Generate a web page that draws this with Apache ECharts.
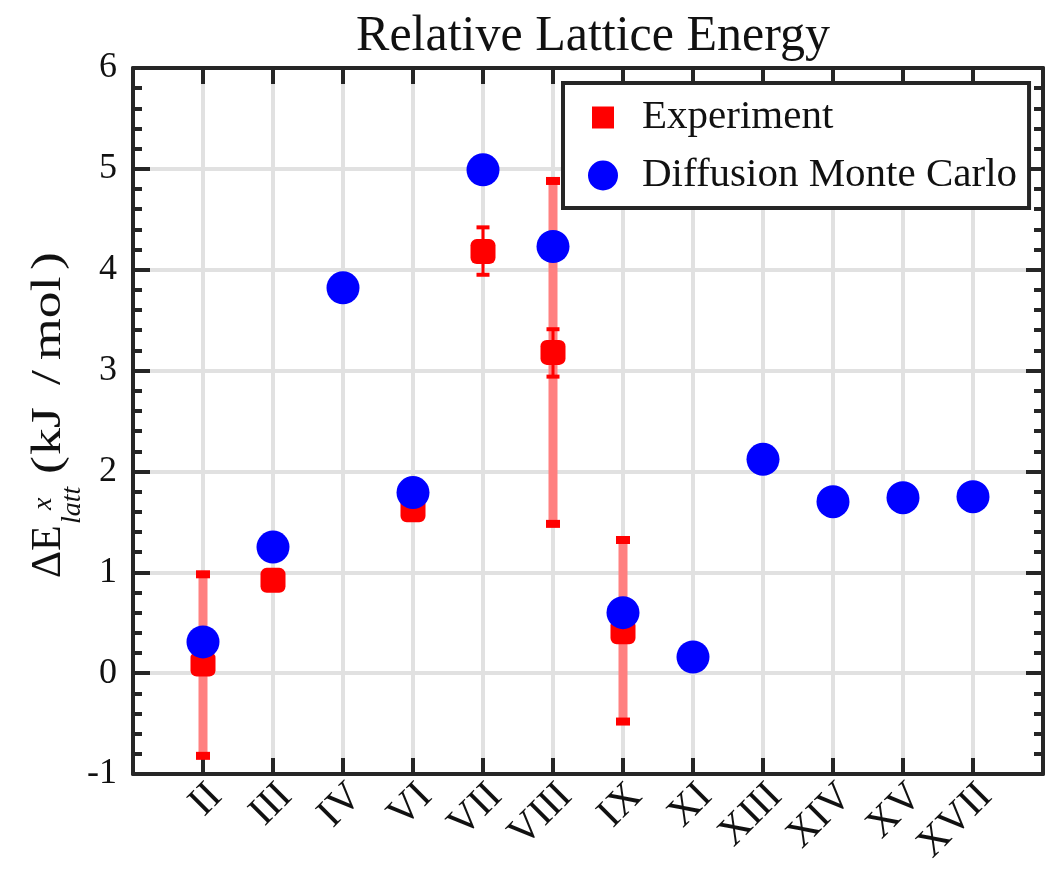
<!DOCTYPE html>
<html>
<head>
<meta charset="utf-8">
<script src="https://cdn.jsdelivr.net/npm/echarts@6/dist/echarts.min.js"></script>
<style>
  html, body { margin: 0; padding: 0; background: #ffffff; }
  #chart { width: 1048px; height: 870px; }
</style>
</head>
<body>
<div id="chart"></div>
<script>
// Polymorphs, in plot order
const categories = ['II', 'III', 'IV', 'VI', 'VII', 'VIII', 'IX', 'XI', 'XIII', 'XIV', 'XV', 'XVII'];

// Diffusion Monte Carlo relative lattice energies (kJ/mol)
const dmcEnergy = [0.31, 1.25, 3.82, 1.79, 4.99, 4.23, 0.60, 0.16, 2.12, 1.70, 1.74, 1.75];

// Experimental relative lattice energies (kJ/mol); null where not measured
const expEnergy = [0.09, 0.92, null, 1.62, 4.18, 3.18, 0.41, null, null, null, null, null];

// Wide experimental uncertainty range (light bars)
const expWideLow  = [-0.82, null, null, null, null, 1.48, -0.48, null, null, null, null, null];
const expWideHigh = [ 0.98, null, null, null, null, 4.88,  1.32, null, null, null, null, null];

// Narrow experimental uncertainty range (solid bars)
const expNarrowLow  = [null, null, null, null, 3.95, 2.94, null, null, null, null, null, null];
const expNarrowHigh = [null, null, null, null, 4.42, 3.41, null, null, null, null, null, null];

const FONT = '"Liberation Serif", "Times New Roman", serif';
const AXIS_COLOR = '#262626';
const GRID_COLOR = '#e1e1e1';

function pairs(values) {
  const out = [];
  values.forEach((v, i) => { if (v !== null) out.push([i + 1, v]); });
  return out;
}
function ranges(low, high) {
  const out = [];
  low.forEach((v, i) => { if (v !== null) out.push([i + 1, v, high[i]]); });
  return out;
}

function errorBar(lineColor, lineWidth, capW, capH) {
  return function (params, api) {
    const x = api.value(0);
    const lo = api.coord([x, api.value(1)]);
    const hi = api.coord([x, api.value(2)]);
    return {
      type: 'group',
      children: [
        { type: 'line', shape: { x1: lo[0], y1: lo[1], x2: hi[0], y2: hi[1] },
          style: { stroke: lineColor, lineWidth: lineWidth } },
        { type: 'rect', shape: { x: hi[0] - capW / 2, y: hi[1] - capH / 2, width: capW, height: capH },
          style: { fill: '#ff0000' } },
        { type: 'rect', shape: { x: lo[0] - capW / 2, y: lo[1] - capH / 2, width: capW, height: capH },
          style: { fill: '#ff0000' } }
      ]
    };
  };
}

const xAxisBase = {
  type: 'value', min: 0, max: categories.length + 1, interval: 1,
  axisLine: { show: true, onZero: false, lineStyle: { color: AXIS_COLOR, width: 4 } },
  axisTick: { show: true, inside: true, length: 16, lineStyle: { color: AXIS_COLOR, width: 4 } }
};
const yAxisBase = {
  type: 'value', min: -1, max: 6, interval: 1,
  axisLine: { show: true, onZero: false, lineStyle: { color: AXIS_COLOR, width: 4 } },
  axisTick: { show: true, inside: true, length: 17, lineStyle: { color: AXIS_COLOR, width: 4 } },
  minorTick: { show: true, splitNumber: 5, length: 9, lineStyle: { color: AXIS_COLOR, width: 4 } }
};

// Axis title: ΔE with stacked superscript x and subscript latt, then units
const yTitleSize = 42, scriptSize = 28, unitStretch = 1.28;
function mid(baseline, size) { return baseline - 0.33 * size; }
function unitText(str, u) {
  return { type: 'text', x: u, y: mid(0, yTitleSize), scaleX: unitStretch,
    style: { text: str, fontFamily: FONT, fontSize: yTitleSize, fill: '#111', verticalAlign: 'middle' } };
}
const yTitle = {
  type: 'group', x: 63, y: 578, rotation: Math.PI / 2, silent: true,
  children: [
    { type: 'text', x: 0, y: mid(0, yTitleSize),
      style: { text: 'ΔE', fontFamily: FONT, fontSize: yTitleSize, fill: '#111', verticalAlign: 'middle' } },
    { type: 'text', x: 68, y: mid(-10, scriptSize),
      style: { text: 'x', fontFamily: FONT, fontStyle: 'italic', fontSize: scriptSize, fill: '#111', verticalAlign: 'middle' } },
    { type: 'text', x: 54, y: mid(19, scriptSize),
      style: { text: 'latt', fontFamily: FONT, fontStyle: 'italic', fontSize: scriptSize, fill: '#111', verticalAlign: 'middle' } },
    unitText('(', 104),
    unitText('kJ', 123),
    unitText('/', 193),
    unitText('mol', 218),
    unitText(')', 308)
  ]
};

const option = {
  backgroundColor: '#ffffff',
  animation: false,
  title: {
    text: 'Relative Lattice Energy',
    left: 588, top: 7, textAlign: 'center',
    textStyle: { fontFamily: FONT, fontSize: 50, fontWeight: 'normal', color: '#111' }
  },
  grid: { left: 133, right: 5, top: 68, bottom: 96 },
  legend: {
    orient: 'vertical', left: 563, top: 83,
    backgroundColor: '#ffffff', borderColor: AXIS_COLOR, borderWidth: 4,
    padding: [14, 12, 12, 25],
    itemWidth: 30, itemHeight: 30, itemGap: 17,
    textStyle: { fontFamily: FONT, fontSize: 41, lineHeight: 30, color: '#111', padding: [0, 0, 0, 19] },
    data: [
      { name: 'Experiment', icon: 'path://M0,0M30,30M4,4h22v22h-22z' },
      { name: 'Diffusion Monte Carlo', icon: 'circle' }
    ]
  },
  xAxis: [
    Object.assign({}, xAxisBase, {
      position: 'bottom',
      axisLabel: {
        rotate: 45, margin: 29,
        fontFamily: FONT, fontSize: 41, color: '#111',
        formatter: v => (categories[v - 1] ? '{r|' + categories[v - 1] + '}' : ''),
        rich: { r: { fontFamily: FONT, fontSize: 41, color: '#111', padding: [0, -18, 0, 0] } }
      },
      splitLine: { show: true, lineStyle: { color: GRID_COLOR, width: 4 } }
    }),
    Object.assign({}, xAxisBase, {
      position: 'top',
      axisLabel: { show: false },
      splitLine: { show: false }
    })
  ],
  yAxis: [
    Object.assign({}, yAxisBase, {
      position: 'left',
      axisLabel: { margin: 16, fontFamily: FONT, fontSize: 36, color: '#111' },
      splitLine: { show: true, lineStyle: { color: GRID_COLOR, width: 4 } }
    }),
    Object.assign({}, yAxisBase, {
      position: 'right',
      axisLabel: { show: false },
      splitLine: { show: false }
    })
  ],
  graphic: [yTitle],
  series: [
    {
      type: 'custom', name: 'Experiment range', xAxisIndex: 0, yAxisIndex: 0,
      renderItem: errorBar('#ff8080', 9, 14, 8),
      data: ranges(expWideLow, expWideHigh), z: 2
    },
    {
      type: 'custom', name: 'Experiment error', xAxisIndex: 0, yAxisIndex: 0,
      renderItem: errorBar('#ff0000', 3, 13, 4),
      data: ranges(expNarrowLow, expNarrowHigh), z: 3
    },
    {
      type: 'scatter', name: 'Experiment', xAxisIndex: 0, yAxisIndex: 0,
      symbol: 'roundRect', symbolSize: 25,
      itemStyle: { color: '#ff0000', opacity: 1 },
      data: pairs(expEnergy), z: 4
    },
    {
      type: 'scatter', name: 'Diffusion Monte Carlo', xAxisIndex: 0, yAxisIndex: 0,
      symbol: 'circle', symbolSize: 33,
      itemStyle: { color: '#0000ff', opacity: 1 },
      data: pairs(dmcEnergy), z: 5
    }
  ]
};

const chart = echarts.init(document.getElementById('chart'), null, { renderer: 'canvas' });
chart.setOption(option);
</script>
</body>
</html>
